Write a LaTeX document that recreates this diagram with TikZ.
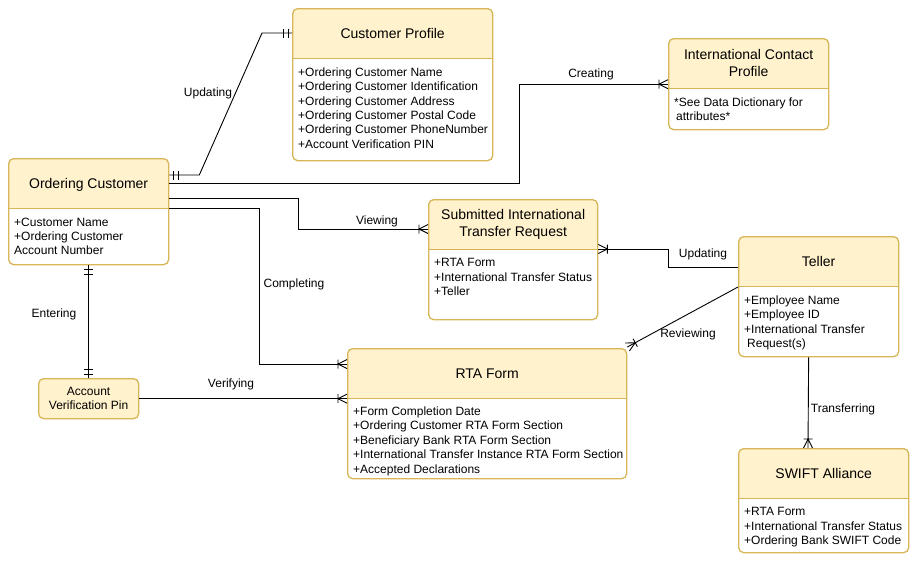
\documentclass[tikz,border=0pt]{standalone}
\usepackage{fontspec}
\setmainfont{Liberation Sans}
\usetikzlibrary{calc,arrows.meta}
\definecolor{hdr}{HTML}{FFF2CC}
\definecolor{stroke}{HTML}{D6B656}

\pgfdeclarearrow{
  name=ERmany,
  setup code={
    \pgfarrowssettipend{0pt}
    \pgfarrowssetlineend{0pt}
    \pgfarrowssetbackend{-10pt}
    \pgfarrowsupperhullpoint{0pt}{5pt}
    \pgfarrowsupperhullpoint{-10pt}{5pt}
  },
  drawing code={
    \pgfsetdash{}{0pt}
    \pgfsetmiterjoin
    \pgfpathmoveto{\pgfqpoint{0pt}{4.5pt}}
    \pgfpathlineto{\pgfqpoint{-9pt}{0pt}}
    \pgfpathlineto{\pgfqpoint{0pt}{-4.5pt}}
    \pgfpathmoveto{\pgfqpoint{-9pt}{4.5pt}}
    \pgfpathlineto{\pgfqpoint{-9pt}{-4.5pt}}
    \pgfusepathqstroke
  }
}
\pgfdeclarearrow{
  name=ERone,
  setup code={
    \pgfarrowssettipend{0pt}
    \pgfarrowssetlineend{0pt}
    \pgfarrowssetbackend{-10pt}
    \pgfarrowsupperhullpoint{0pt}{5pt}
    \pgfarrowsupperhullpoint{-10pt}{5pt}
  },
  drawing code={
    \pgfsetdash{}{0pt}
    \pgfpathmoveto{\pgfqpoint{-4pt}{4.5pt}}
    \pgfpathlineto{\pgfqpoint{-4pt}{-4.5pt}}
    \pgfpathmoveto{\pgfqpoint{-9pt}{4.5pt}}
    \pgfpathlineto{\pgfqpoint{-9pt}{-4.5pt}}
    \pgfusepathqstroke
  }
}

\begin{document}
\begin{tikzpicture}[x=1pt,y=-1pt,
  entity/.style={draw=stroke, line width=1.3pt, fill=white, rounded corners=5pt,
    inner sep=0pt, anchor=north west,
    path picture={\fill[hdr,sharp corners] (path picture bounding box.north west) rectangle ([yshift=-50pt]path picture bounding box.north east);
      \draw[stroke,line width=1.3pt,sharp corners] ([yshift=-50pt]path picture bounding box.north west) -- ([yshift=-50pt]path picture bounding box.north east);}},
  smallent/.style={draw=stroke, line width=1.3pt, fill=hdr, rounded corners=5pt,
    inner sep=0pt, anchor=north west},
  ttl/.style={font=\fontsize{14}{17}\selectfont, align=center, inner sep=0pt},
  ttlone/.style={ttl, text height=10pt, text depth=0pt},
  attr/.style={font=\fontsize{12}{14.4}\selectfont, align=left, inner sep=0pt, anchor=north west},
  lbl/.style={font=\fontsize{12}{14.4}\selectfont, inner sep=0pt, text height=8.6pt, text depth=0pt},
  conn/.style={line width=0.9pt, black},
]
\useasboundingbox (0,0) rectangle (913,560);

% entities
\node[entity, minimum width=200pt, minimum height=152pt] (cp) at (292,8) {};
\node[entity, minimum width=160pt, minimum height=91pt] (icp) at (668,38) {};
\node[entity, minimum width=160pt, minimum height=106pt] (oc) at (8,158) {};
\node[entity, minimum width=169pt, minimum height=120pt] (str) at (428,199) {};
\node[entity, minimum width=160pt, minimum height=120pt] (tel) at (738,236) {};
\node[entity, minimum width=279pt, minimum height=130pt] (rta) at (347,348) {};
\node[smallent, minimum width=100pt, minimum height=40pt] (avp) at (38,378) {};
\node[entity, minimum width=170pt, minimum height=104pt] (sw) at (738,448) {};

% titles
\node[ttlone] (cpT) at ($(cp.north)+(0,25)$) {Customer Profile};
\node[ttl] (icpT) at ($(icp.north)+(0,25)$) {International Contact\\Profile};
\node[ttlone] (ocT) at ($(oc.north)+(0,25)$) {Ordering Customer};
\node[ttl] (strT) at ($(str.north)+(0,25)$) {Submitted International\\Transfer Request};
\node[ttlone] (telT) at ($(tel.north)+(0,25)$) {Teller};
\node[ttlone] (rtaT) at ($(rta.north)+(0,25)$) {RTA Form};
\node[ttlone] (swT) at ($(sw.north)+(0,25)$) {SWIFT Alliance};
\node[font=\fontsize{12}{14.4}\selectfont, align=center, inner sep=0pt] (avpT) at (avp.center) {Account\\Verification Pin};

% attributes
\node[attr] (cpA) at (298,67.5) {+Ordering Customer Name\\+Ordering Customer Identification\\+Ordering Customer Address\\+Ordering Customer Postal Code\\+Ordering Customer PhoneNumber\\+Account Verification PIN};
\node[attr] (icpA) at (674,97.5) {*See Data Dictionary for\\\hspace{2pt}attributes*};
\node[attr] (ocA) at (14,217.5) {+Customer Name\\+Ordering Customer\\Account Number};
\node[attr] (strA) at (434,258.5) {+RTA Form\\+International Transfer Status\\+Teller};
\node[attr] (telA) at (744,295.5) {+Employee Name\\+Employee ID\\+International Transfer\\\hspace{3pt}Request(s)};
\node[attr] (rtaA) at (353,406.5) {+Form Completion Date\\+Ordering Customer RTA Form Section\\+Beneficiary Bank RTA Form Section\\+International Transfer Instance RTA Form Section\\+Accepted Declarations};
\node[attr] (swA) at (744,507.5) {+RTA Form\\+International Transfer Status\\+Ordering Bank SWIFT Code};

% connectors
\draw[conn, {ERone}-{ERone}] ($(oc.north east)+(0,17)$) -- ++(30,0) -- ($(cp.north west)+(-30,25)$) -- ($(cp.north west)+(0,25)$);
\draw[conn, -{ERmany}] ($(oc.north east)+(0,25)$) -| ($(icp.west)+(-149,0)$) -- (icp.west);
\draw[conn, -{ERmany}] ($(oc.north east)+(0,40)$) -| ($(str.north west)+(-130,30)$) -- ($(str.north west)+(0,30)$);
\draw[conn, -{ERmany}] ($(oc.north east)+(0,50)$) -| ($(rta.north west)+(-88,16)$) -- ($(rta.north west)+(0,16)$);
\draw[conn, {ERone}-{ERone}] (oc.south) -- (avp.north);
\draw[conn, -{ERmany}] (avp.east) -- (avp.east -| rta.west);
\draw[conn, -{ERmany}] ($(tel.north west)+(0,31)$) -- ++(-70,0) |- ($(str.north east)+(0,50)$);
\draw[conn, -{ERmany}] ($(tel.north west)+(0,51)$) -- ($(rta.north east)+(0,-1)$);
\draw[conn, -{ERmany}] ($(tel.south)+(-10,0)$) -- ($(sw.north west)+(70,0)$);

% labels
\node[lbl] (l1) at (208,92) {Updating};
\node[lbl] (l2) at (591,73) {Creating};
\node[lbl] (l3) at (377,220) {Viewing};
\node[lbl] (l4) at (294,283) {Completing};
\node[lbl] (l5) at (54,313) {Entering};
\node[lbl] (l6) at (231,383) {Verifying};
\node[lbl] (l7) at (703,253) {Updating};
\node[lbl] (l8) at (688,333) {Reviewing};
\node[lbl] (l9) at (843,408) {Transferring};
\end{tikzpicture}
\end{document}
